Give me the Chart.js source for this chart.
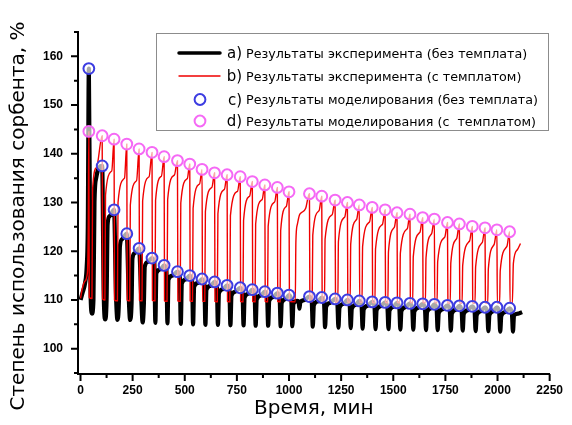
<!DOCTYPE html>
<html>
<head>
<meta charset="utf-8">
<script src="https://cdn.jsdelivr.net/npm/chart.js@4.4.1/dist/chart.umd.min.js"></script>
<style>
  html, body { margin: 0; padding: 0; background: #fff; }
</style>
</head>
<body>
<canvas id="myChart" width="572" height="425"></canvas>
<script>
// times of the regeneration peaks, min
var peakTimes = [40, 104, 161, 222, 281, 343, 401, 465, 524, 583, 643, 703, 766, 824, 884, 944, 1000,
  1098, 1157, 1221, 1280, 1337, 1399, 1461, 1518, 1580, 1641, 1697, 1760, 1817, 1879, 1940, 1997, 2058];

// c) modelling, without template (blue circles)
var modelNoTemplate = [157.5, 137.5, 128.5, 123.6, 120.6, 118.6, 117.1, 115.8, 115.0, 114.3, 113.7, 113.0,
  112.5, 112.1, 111.7, 111.4, 111.0, 110.7, 110.5, 110.2, 110.0, 109.8, 109.6, 109.5, 109.4, 109.3, 109.2,
  109.1, 108.9, 108.8, 108.7, 108.5, 108.5, 108.3];

// d) modelling, with template (pink circles)
var modelTemplate = [144.6, 143.7, 143.0, 142.0, 141.0, 140.3, 139.4, 138.6, 137.9, 136.8, 136.1, 135.7,
  135.3, 134.3, 133.6, 133.1, 132.2, 131.8, 131.3, 130.5, 130.0, 129.5, 129.0, 128.5, 127.9, 127.6, 126.9,
  126.6, 125.9, 125.6, 125.1, 124.8, 124.4, 124.0];

// a) experiment, without template (black line) [min, %]
var expNoTemplate = [
  [0,110.0],[10,111.5],[22,113.5],[30,117.0],[35,125.0],[40,157.5],
  [48,112.0],[55,107.2],[62,110.0],[67,130.0],[75,135.0],[104,137.5],
  [111,112.0],[118,106.0],[125,110.0],[130,125.5],[140,127.2],[161,128.5],
  [170,111.5],[177,105.9],[184,109.5],[189,121.0],[200,122.5],[222,123.6],
  [231,111.0],[238,105.9],[245,109.5],[249,118.5],[260,119.6],[281,120.6],
  [291,110.8],[298,105.4],[304,109.3],[308,116.8],[322,117.8],[343,118.6],
  [354,117.6],[359,105.3],[364,115.5],[383,116.3],[401,117.1],
  [412,116.1],[417,105.2],[422,114.2],[441,115.0],[465,115.8],
  [476,114.8],[481,105.1],[486,113.4],[505,114.2],[524,115.0],
  [535,114.0],[540,105.0],[545,112.7],[564,113.5],[583,114.3],
  [594,113.3],[599,104.9],[604,112.1],[623,112.9],[643,113.7],
  [654,112.7],[659,104.9],[664,111.4],[683,112.2],[703,113.0],
  [714,112.0],[719,104.8],[724,110.9],[743,111.7],[766,112.5],
  [777,111.5],[782,104.8],[787,110.5],[806,111.3],[824,112.1],
  [835,111.1],[840,104.7],[845,110.1],[864,110.9],[884,111.7],
  [895,110.7],[900,104.7],[905,109.8],[924,110.6],[944,111.4],
  [955,110.4],[960,104.6],[965,109.4],[984,110.2],[1000,111.0],
  [1011,110.0],[1016,104.6],[1021,109.2],[1040,109.8],[1046,109.6],[1050,108.2],[1054,109.5],[1075,110.0],[1098,110.7],
  [1109,109.7],[1114,104.5],[1119,108.9],[1138,109.7],[1157,110.5],
  [1168,109.5],[1173,104.4],[1178,108.6],[1197,109.4],[1221,110.2],
  [1232,109.2],[1237,104.3],[1242,108.4],[1261,109.2],[1280,110.0],
  [1291,109.0],[1296,104.2],[1301,108.2],[1320,109.0],[1337,109.8],
  [1348,108.8],[1353,104.1],[1358,108.0],[1377,108.8],[1399,109.6],
  [1410,108.6],[1415,104.0],[1420,107.9],[1439,108.7],[1461,109.5],
  [1472,108.5],[1477,104.0],[1482,107.8],[1501,108.6],[1518,109.4],
  [1529,108.4],[1534,103.9],[1539,107.7],[1558,108.5],[1580,109.3],
  [1591,108.3],[1596,103.9],[1601,107.6],[1620,108.4],[1641,109.2],
  [1652,108.2],[1657,103.8],[1662,107.5],[1681,108.3],[1697,109.1],
  [1708,108.1],[1713,103.8],[1718,107.3],[1737,108.1],[1760,108.9],
  [1771,107.9],[1776,103.7],[1781,107.2],[1800,108.0],[1817,108.8],
  [1828,107.8],[1833,103.7],[1838,107.1],[1857,107.9],[1879,108.7],
  [1890,107.7],[1895,103.6],[1900,106.9],[1919,107.7],[1940,108.5],
  [1951,107.5],[1956,103.6],[1961,106.9],[1980,107.7],[1997,108.5],
  [2008,107.5],[2013,103.5],[2018,106.7],[2037,107.5],[2058,108.3],
  [2069,107.3],[2074,103.5],[2079,106.8],[2100,107.2],[2118,107.5]
];

// b) experiment, with template (red line) [min, %]
var expTemplate = [
  [0,110.3],[8,112.2],[20,113.8],[33,115.5],[37,124.0],[40,144.6],
  [42,110.5],[55,110.3],[58,132.7],[77,137.2],[104,143.7],
  [106,110.2],[117,110.0],[120,131.5],[150,136.5],[161,143.0],
  [163,110.0],[177,109.8],[180,130.0],[211,135.0],[222,142.0],
  [224,110.0],[236,109.8],[239,129.5],[269,134.5],[281,141.0],
  [283,109.9],[295,109.8],[298,130.3],[329,135.3],[343,140.3],
  [345,109.9],[357,109.8],[360,130.4],[388,135.4],[401,139.4],
  [403,109.8],[415,109.7],[418,130.6],[450,135.6],[465,138.6],
  [467,109.8],[478,109.7],[481,129.9],[512,134.9],[524,137.9],
  [526,109.8],[537,109.7],[540,128.8],[571,133.8],[583,136.8],
  [585,109.7],[596,109.7],[599,128.1],[630,133.1],[643,136.1],
  [645,109.7],[656,109.6],[659,127.7],[690,132.7],[703,135.7],
  [705,109.7],[716,109.6],[719,127.3],[753,132.3],[766,135.3],
  [768,109.7],[779,109.6],[782,126.3],[811,131.3],[824,134.3],
  [826,109.7],[837,109.6],[840,125.6],[871,130.6],[884,133.6],
  [886,109.7],[897,109.6],[900,125.1],[931,130.1],[944,133.1],
  [946,109.7],[957,109.6],[960,124.2],[987,129.2],[1000,132.2],
  [1002,109.7],[1030,109.6],[1033,122.0],[1040,125.5],[1049,127.3],[1056,127.8],[1080,128.8],[1090,130.8],[1098,131.8],
  [1100,109.7],[1111,109.6],[1114,123.3],[1144,128.3],[1157,131.3],
  [1159,109.6],[1170,109.5],[1173,122.5],[1207,127.5],[1221,130.5],
  [1223,109.6],[1234,109.5],[1237,122.0],[1267,127.0],[1280,130.0],
  [1282,109.6],[1293,109.5],[1296,121.5],[1324,126.5],[1337,129.5],
  [1339,109.5],[1350,109.5],[1353,121.0],[1386,126.0],[1399,129.0],
  [1401,109.5],[1412,109.4],[1415,120.5],[1448,125.5],[1461,128.5],
  [1463,109.5],[1474,109.4],[1477,119.9],[1505,124.9],[1518,127.9],
  [1520,109.5],[1531,109.4],[1534,119.6],[1567,124.6],[1580,127.6],
  [1582,109.5],[1593,109.4],[1596,118.9],[1628,123.9],[1641,126.9],
  [1643,109.5],[1654,109.4],[1657,118.6],[1684,123.6],[1697,126.6],
  [1699,109.4],[1710,109.4],[1713,117.9],[1747,122.9],[1760,125.9],
  [1762,109.4],[1773,109.3],[1776,117.6],[1804,122.6],[1817,125.6],
  [1819,109.4],[1830,109.3],[1833,117.1],[1866,122.1],[1879,125.1],
  [1881,109.4],[1892,109.3],[1895,116.8],[1927,121.8],[1940,124.8],
  [1942,109.4],[1953,109.3],[1956,116.4],[1984,121.4],[1997,124.4],
  [1999,109.3],[2010,109.3],[2013,116.0],[2045,121.0],[2058,124.0],
  [2060,109.3],[2071,109.3],[2076,117.5],[2095,120.3],[2110,121.6]
];

var xTicks = [0, 250, 500, 750, 1000, 1250, 1500, 1750, 2000, 2250];
var xMinorTicks = [125, 375, 625, 875, 1125, 1375, 1625, 1875, 2125];
var yTicks = [100, 110, 120, 130, 140, 150, 160];
var yMinorTicks = [95, 105, 115, 125, 135, 145, 155, 165];

var legendLetters = ['a)', 'b)', 'c)', 'd)'];
var legendTexts = [
  'Результаты эксперимента (без темплата)',
  'Результаты эксперимента (с темплатом)',
  'Результаты моделирования (без темплата)',
  'Результаты моделирования (с  темплатом)'
];
var xTitle = 'Время, мин';
var yTitle = 'Степень использования сорбента, %';

var circleFill = 'rgba(255,255,255,0.66)';

// minor ticks, axis titles and the boxed legend
var extras = {
  id: 'extras',
  afterDraw: function (chart) {
    var ctx = chart.ctx, a = chart.chartArea;
    var xs = chart.scales.x, ys = chart.scales.y;
    ctx.save();
    ctx.strokeStyle = '#000';
    ctx.lineWidth = 2;
    ctx.beginPath();
    yTicks.forEach(function (v) { var p = ys.getPixelForValue(v); ctx.moveTo(a.left, p); ctx.lineTo(a.left - 7, p); });
    yMinorTicks.forEach(function (v) { var p = ys.getPixelForValue(v); ctx.moveTo(a.left, p); ctx.lineTo(a.left - 4, p); });
    xTicks.forEach(function (v) { var p = xs.getPixelForValue(v); ctx.moveTo(p, a.bottom); ctx.lineTo(p, a.bottom + 7); });
    xMinorTicks.forEach(function (v) { var p = xs.getPixelForValue(v); ctx.moveTo(p, a.bottom); ctx.lineTo(p, a.bottom + 4); });
    ctx.stroke();

    ctx.fillStyle = '#000';
    ctx.font = '20px "DejaVu Sans"';
    ctx.textAlign = 'center';
    ctx.textBaseline = 'middle';
    ctx.fillText(xTitle, (a.left + a.right) / 2, 409);
    ctx.save();
    ctx.translate(19, 216);
    ctx.rotate(-Math.PI / 2);
    ctx.fillText(yTitle, 0, 0);
    ctx.restore();

    // legend
    ctx.fillStyle = '#fff';
    ctx.fillRect(156.5, 33.5, 392, 97);
    ctx.strokeStyle = '#8c8c8c';
    ctx.lineWidth = 1;
    ctx.strokeRect(156.5, 33.5, 392, 97);
    var rows = [53, 76, 99.5, 121];
    var ds = chart.data.datasets;
    rows.forEach(function (ry, i) {
      var d = ds[i];
      if (i < 2) {
        ctx.strokeStyle = d.borderColor;
        ctx.lineWidth = i === 0 ? 3.5 : 1.4;
        ctx.lineCap = 'round';
        ctx.beginPath();
        ctx.moveTo(179, ry);
        ctx.lineTo(220, ry);
        ctx.stroke();
      } else {
        ctx.fillStyle = '#fff';
        ctx.strokeStyle = d.borderColor;
        ctx.lineWidth = d.borderWidth;
        ctx.beginPath();
        ctx.arc(200, ry, d.pointRadius, 0, Math.PI * 2);
        ctx.fill();
        ctx.stroke();
      }
      ctx.fillStyle = '#000';
      ctx.textBaseline = 'alphabetic';
      ctx.textAlign = 'right';
      ctx.font = '15px "DejaVu Sans"';
      ctx.fillText(legendLetters[i], 242, ry + 5);
      ctx.textAlign = 'left';
      ctx.font = '12.7px "DejaVu Sans"';
      ctx.fillText(legendTexts[i], 246, ry + 4.5);
    });
    ctx.restore();
  }
};

var ctx = document.getElementById('myChart').getContext('2d');
var myChart = new Chart(ctx, {
  type: 'line',
  data: {
    datasets: [{
      label: legendTexts[0],
      data: expNoTemplate,
      borderColor: '#000',
      borderWidth: 4.2,
      borderJoinStyle: 'round',
      cubicInterpolationMode: 'monotone',
      pointRadius: 0,
      order: 3
    }, {
      label: legendTexts[1],
      data: expTemplate,
      borderColor: '#f00000',
      borderWidth: 1.4,
      borderJoinStyle: 'round',
      cubicInterpolationMode: 'monotone',
      pointRadius: 0,
      order: 2
    }, {
      label: legendTexts[2],
      data: peakTimes.map(function (t, i) { return { x: t, y: modelNoTemplate[i] }; }),
      showLine: false,
      borderColor: 'rgb(60,60,225)',
      backgroundColor: circleFill,
      borderWidth: 2,
      pointRadius: 5.4,
      order: 1
    }, {
      label: legendTexts[3],
      data: peakTimes.map(function (t, i) { return { x: t, y: modelTemplate[i] }; }),
      showLine: false,
      borderColor: 'rgb(245,105,245)',
      backgroundColor: circleFill,
      borderWidth: 2,
      pointRadius: 5.4,
      order: 0
    }]
  },
  options: {
    responsive: false,
    animation: false,
    layout: { padding: { top: 32, right: 17, left: 0, bottom: 0 } },
    plugins: {
      legend: { display: false },
      tooltip: { enabled: false }
    },
    scales: {
      x: {
        type: 'linear',
        min: -12,
        max: 2250,
        afterFit: function (s) { s.height = 51; },
        afterBuildTicks: function (s) { s.ticks = xTicks.map(function (v) { return { value: v }; }); },
        grid: { display: false, drawTicks: false },
        border: { display: true, color: '#000', width: 2 },
        ticks: {
          padding: 9,
          maxRotation: 0,
          color: '#000',
          callback: function (v) { return String(v); },
          font: { family: '"Liberation Sans", Arial', size: 12, weight: 'bold' }
        }
      },
      y: {
        type: 'linear',
        min: 94.8,
        max: 165,
        afterFit: function (s) { s.width = 78; },
        afterBuildTicks: function (s) { s.ticks = yTicks.map(function (v) { return { value: v }; }); },
        grid: { display: false, drawTicks: false },
        border: { display: true, color: '#000', width: 2 },
        ticks: {
          padding: 15,
          color: '#000',
          callback: function (v) { return String(v); },
          font: { family: '"Liberation Sans", Arial', size: 12, weight: 'bold' }
        }
      }
    }
  },
  plugins: [extras]
});
</script>
</body>
</html>
